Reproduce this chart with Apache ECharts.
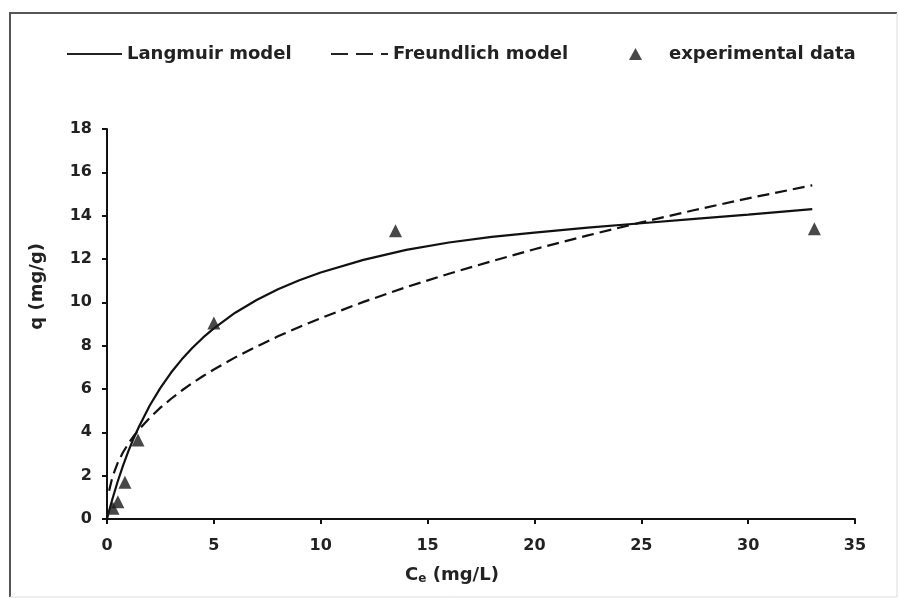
<!DOCTYPE html>
<html>
<head>
<meta charset="utf-8">
<script src="https://cdn.jsdelivr.net/npm/echarts@6/dist/echarts.min.js"></script>
<style>
  html, body { margin: 0; padding: 0; background: #fff; }
  #main { width: 899px; height: 599px; }
</style>
</head>
<body>
<div id="main"></div>
<script>
// Langmuir model curve
var langX = [0, 0.1, 0.25, 0.5, 0.75, 1, 1.25, 1.5, 2, 2.5, 3, 3.5, 4, 4.5, 5, 6, 7, 8, 9, 10, 12, 14, 16, 18, 20, 22.5, 25, 27.5, 30, 33];
var langY = [0, 0.38, 0.91, 1.73, 2.46, 3.13, 3.73, 4.27, 5.24, 6.05, 6.76, 7.37, 7.9, 8.38, 8.8, 9.52, 10.11, 10.6, 11.02, 11.38, 11.96, 12.42, 12.76, 13.02, 13.22, 13.45, 13.65, 13.85, 14.05, 14.3];

// Freundlich model curve
var freX = [0.1, 0.25, 0.5, 0.75, 1, 1.25, 1.5, 2, 2.5, 3, 3.5, 4, 4.5, 5, 6, 7, 8, 9, 10, 12, 14, 16, 18, 20, 22.5, 25, 27.5, 30, 33];
var freY = [1.3, 1.93, 2.59, 3.08, 3.48, 3.83, 4.13, 4.67, 5.14, 5.55, 5.93, 6.28, 6.6, 6.9, 7.46, 7.96, 8.43, 8.86, 9.27, 10.02, 10.7, 11.32, 11.9, 12.45, 13.09, 13.69, 14.26, 14.8, 15.4];

// experimental data
var expX = [0.28, 0.51, 0.84, 1.45, 5.0, 13.5, 33.1];
var expY = [0.5, 0.8, 1.7, 3.65, 9.05, 13.3, 13.4];

var xTicks = { min: 0, max: 35, interval: 5 };
var yTicks = { min: 0, max: 18, interval: 2 };

function zip(xs, ys) {
	var out = [];
	for (var i = 0; i < xs.length; i++) {
		out.push([xs[i], ys[i]]);
	}
	return out;
}

var font = 'DejaVu Sans';
var legendText = { fontFamily: font, fontWeight: 'bold', fontSize: 18, color: '#222' };

var option = {
	backgroundColor: '#fff',
	animation: false,
	grid: { left: 107, right: 44, top: 129, bottom: 80 },
	legend: [
		{
			left: 62, top: 40, itemWidth: 55, itemHeight: 2,
			data: [{ name: 'Langmuir model', icon: 'rect' }],
			itemStyle: { color: '#222' },
			textStyle: legendText
		},
		{
			left: 326, top: 40, itemWidth: 57, itemHeight: 2,
			data: [{ name: 'Freundlich model', icon: 'path://M0,0h17v2h-17z M25,0h17v2h-17z M50,0h7v2h-7z' }],
			itemStyle: { color: '#222' },
			textStyle: legendText
		},
		{
			left: 624, top: 40, itemWidth: 13, itemHeight: 12,
			data: [{ name: 'experimental data', icon: 'triangle' }],
			itemStyle: { color: '#1a1a1a' },
			textStyle: Object.assign({ padding: [0, 0, 0, 22] }, legendText)
		}
	],
	xAxis: {
		type: 'value',
		min: xTicks.min, max: xTicks.max, interval: xTicks.interval,
		name: '{c|C}{s|e}{c| (mg/L)}',
		nameLocation: 'middle',
		nameGap: 46,
		nameTextStyle: {
			padding: [0, 58, 0, 0],
			rich: {
				c: { fontFamily: font, fontWeight: 'bold', fontSize: 18, color: '#222' },
				s: { fontFamily: font, fontWeight: 'bold', fontSize: 12, color: '#222', padding: [8, 0, 0, 0] }
			}
		},
		axisLine: { lineStyle: { color: '#111', width: 2 } },
		axisTick: { show: true, length: 5, lineStyle: { color: '#111', width: 2 } },
		axisLabel: { margin: 19, fontFamily: font, fontWeight: 'bold', fontSize: 16, color: '#222' },
		splitLine: { show: false }
	},
	yAxis: {
		type: 'value',
		min: yTicks.min, max: yTicks.max, interval: yTicks.interval,
		axisLine: { show: true, lineStyle: { color: '#111', width: 2 } },
		axisTick: { show: true, length: 5, lineStyle: { color: '#111', width: 2 } },
		axisLabel: { margin: 15, fontFamily: font, fontWeight: 'bold', fontSize: 16, color: '#222' },
		splitLine: { show: false }
	},
	graphic: [
		{
			type: 'text', left: 28, top: 243, rotation: Math.PI / 2,
			style: { text: 'q (mg/g)', fontFamily: font, fontWeight: 'bold', fontSize: 18, fill: '#222' }
		},
		{
			type: 'polyline', silent: true,
			shape: { points: [[10, 597], [10, 13], [897, 13]] },
			style: { stroke: '#555', lineWidth: 2, fill: null }
		},
		{
			type: 'polyline', silent: true,
			shape: { points: [[897, 13], [897, 597], [10, 597]] },
			style: { stroke: '#ddd', lineWidth: 1, fill: null }
		}
	],
	series: [
		{
			name: 'Langmuir model',
			type: 'line',
			data: zip(langX, langY),
			symbol: 'none',
			lineStyle: { color: '#111', width: 2.2 },
			itemStyle: { color: '#111' }
		},
		{
			name: 'Freundlich model',
			type: 'line',
			data: zip(freX, freY),
			symbol: 'none',
			lineStyle: { color: '#111', width: 2.2, type: [12, 6] },
			itemStyle: { color: '#111' }
		},
		{
			name: 'experimental data',
			type: 'scatter',
			data: zip(expX, expY),
			symbol: 'triangle',
			symbolSize: 13,
			itemStyle: { color: '#1a1a1a' },
			z: 3
		}
	]
};

var myChart = echarts.init(document.getElementById('main'));
myChart.setOption(option, true);
</script>
</body>
</html>
